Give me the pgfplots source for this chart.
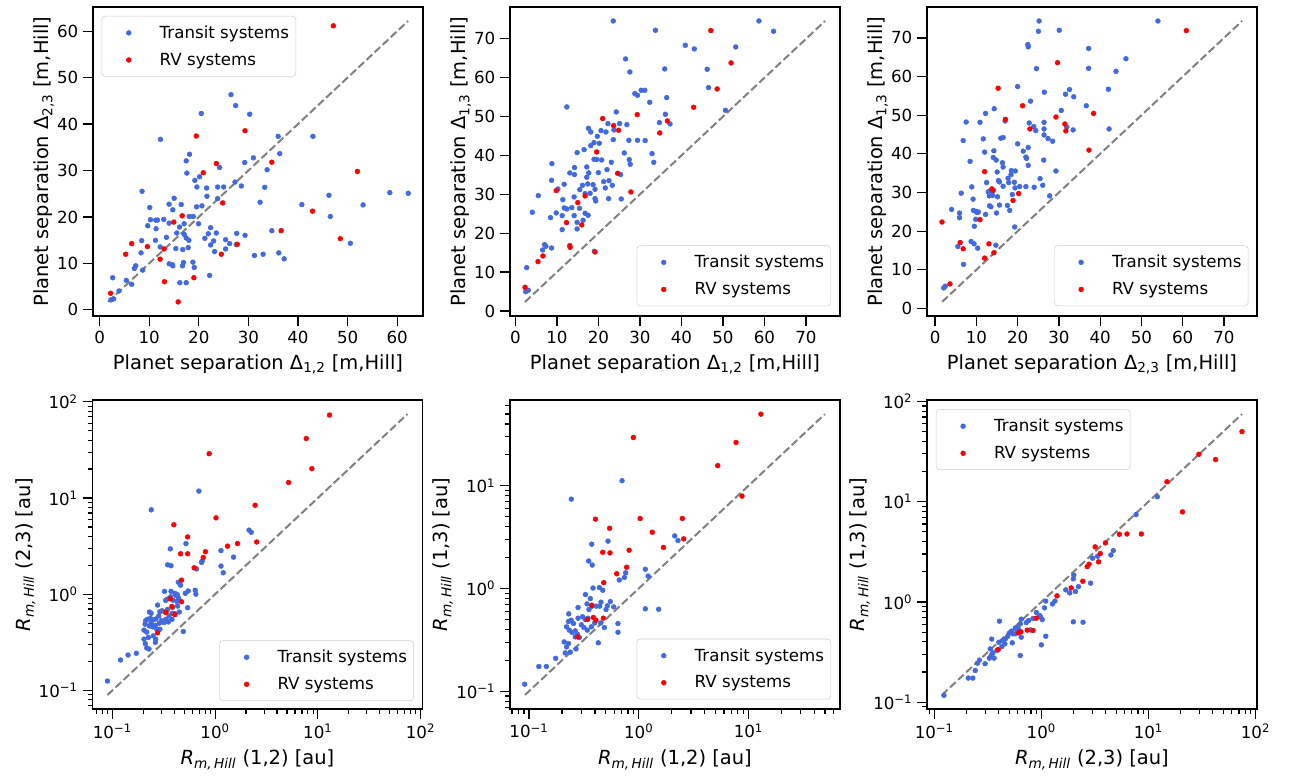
\documentclass[border=0pt]{standalone}
\usepackage{fontspec}
\setmainfont{DejaVu Sans}
\usepackage{pgfplots}
\pgfplotsset{compat=1.18}

\definecolor{tblue}{HTML}{4169E1}
\definecolor{tred}{HTML}{FF0000}

\newcommand{\Rm}{\textit{R}\textsubscript{\textit{m,\,Hill}}}
\newcommand{\tk}[1]{10\textsuperscript{#1}}

\pgfplotsset{
  panel/.style={
    scale only axis, anchor=north west, width=247.5pt, height=231.75pt,
    axis line style={black, line width=0.8pt},
    every tick/.style={black, line width=0.9pt},
    major tick length=7.5pt, minor tick length=3.75pt,
    tick align=outside, xtick pos=bottom, ytick pos=left,
    tick label style={font=\fontsize{12.5}{15}\selectfont},
    label style={font=\fontsize{14.6}{17}\selectfont},
    xlabel shift=1.5pt, ylabel shift=-4.5pt,
    /pgf/number format/assume math mode=true,
    legend cell align=left,
    legend style={font=\fontsize{12.5}{15}\selectfont, draw=black!20, rounded corners=2.5pt,
      fill=white, inner xsep=3pt, inner ysep=5pt, row sep=5.5pt},
  },
  dotleg/.style={legend image code/.code={\path (0pt,0pt) (38pt,0pt);
      \draw[mark repeat=2,mark phase=2,##1] plot coordinates {(0pt,0pt)(17pt,0pt)(38pt,0pt)};}},
  tr/.style={only marks, mark=*, mark size=1.8pt, color=tblue, dotleg},
  rv/.style={only marks, mark=*, mark size=1.8pt, color=tred, dotleg},
  diag/.style={color=gray, line width=1.5pt, dash pattern=on 5.8pt off 2.5pt, forget plot},
}

\begin{document}
\begin{tikzpicture}
\path[use as bounding box] (0,0) rectangle (966.75pt,-583.5pt);

% ---------- top left
\begin{axis}[panel, at={(69.75pt,-5.25pt)},
  xmin=-1.33, xmax=65.2, ymin=-1.33, ymax=65.2,
  xtick={0,10,...,60}, ytick={0,10,...,60},
  xlabel={Planet separation Δ\textsubscript{1,2} [m,Hill]},
  ylabel={Planet separation Δ\textsubscript{2,3} [m,Hill]},
  legend style={at={(0.026,0.971)}, anchor=north west}]
\addplot[tr] coordinates {(26.49,46.33)(27.43,43.98)(30.27,42.12)(20.49,42.27)(12.27,36.71)(18.13,33.50)(17.46,32.07)(17.59,29.44)(19.21,27.87)(20.16,28.65)(19.62,26.44)(21.57,26.23)(23.80,26.44)(25.01,26.44)(24.20,30.65)(29.26,31.72)(31.01,32.72)(33.77,30.15)(36.00,37.35)(36.33,33.64)(43.01,37.35)(33.30,26.37)(28.58,26.66)(27.30,27.51)(23.80,23.95)(21.64,24.45)(20.63,22.38)(19.55,22.17)(16.45,22.67)(15.03,24.02)(14.02,22.74)(14.76,21.53)(18.07,20.10)(18.87,20.10)(19.95,18.53)(17.05,18.53)(16.11,17.82)(14.02,18.67)(12.94,19.46)(11.32,19.32)(11.66,19.32)(10.25,19.39)(10.11,22.02)(8.56,25.52)(9.71,18.10)(11.39,17.46)(15.57,16.54)(17.05,16.25)(17.46,15.47)(18.00,14.97)(13.48,15.61)(11.26,14.97)(12.20,13.54)(8.49,14.90)(8.36,12.26)(15.37,13.19)(16.78,12.97)(17.86,13.40)(21.23,15.40)(21.91,16.39)(22.38,17.68)(23.53,16.54)(22.99,14.83)(22.38,13.97)(23.19,12.54)(25.41,15.11)(26.22,14.26)(25.41,13.11)(27.64,16.46)(27.57,14.04)(29.32,16.04)(34.72,17.04)(32.36,23.16)(40.78,22.67)(46.24,24.66)(46.51,20.10)(53.12,22.59)(58.51,25.23)(62.22,25.09)(31.21,11.69)(32.96,11.97)(36.13,12.26)(37.21,10.98)(50.56,14.33)(22.18,7.41)(14.02,9.91)(14.69,9.69)(14.76,9.48)(16.92,10.19)(16.72,9.48)(18.81,10.26)(19.08,9.12)(7.01,8.91)(7.28,9.48)(8.70,8.55)(5.39,6.34)(6.47,5.49)(2.63,6.91)(3.91,4.06)(2.29,2.14)(2.83,2.35)(17.46,5.84)(16.18,5.84)};
\addlegendentry{Transit systems}
\addplot[rv] coordinates {(47.12,61.15)(29.32,38.56)(19.48,37.42)(23.53,31.50)(20.90,29.51)(34.72,31.79)(24.81,23.02)(51.97,29.79)(42.94,21.24)(16.65,20.24)(14.96,18.89)(36.60,17.04)(6.47,14.26)(9.64,13.61)(13.01,13.11)(48.53,15.32)(27.77,14.11)(5.26,11.97)(12.20,10.91)(24.54,11.97)(19.01,6.91)(13.08,6.06)(15.84,1.71)(2.22,3.56)};
\addlegendentry{RV systems}
\addplot[diag] coordinates {(1.7,1.7)(62.2,62.2)};
\end{axis}

% ---------- top middle
\begin{axis}[panel, at={(382.5pt,-5.25pt)},
  xmin=-1.3, xmax=78.2, ymin=-1.3, ymax=78.2,
  xtick={0,10,...,70}, ytick={0,10,...,70},
  xlabel={Planet separation Δ\textsubscript{1,2} [m,Hill]},
  ylabel={Planet separation Δ\textsubscript{1,3} [m,Hill]},
  legend style={at={(0.973,0.032)}, anchor=south east}]
\addplot[tr] coordinates {(23.58,74.61)(33.73,72.21)(58.67,74.61)(62.19,71.96)(40.93,68.35)(43.09,67.41)(53.08,67.92)(26.54,64.84)(27.58,61.49)(35.97,62.26)(46.20,62.18)(46.52,57.46)(28.78,55.92)(29.42,55.49)(30.30,56.78)(31.18,56.78)(32.37,53.69)(36.45,54.89)(12.39,52.49)(24.30,51.20)(36.13,50.60)(50.60,51.63)(22.30,48.20)(25.10,48.20)(26.86,47.94)(34.69,48.46)(37.25,48.11)(17.59,47.00)(18.15,46.05)(20.62,46.40)(21.82,46.05)(23.74,46.57)(23.58,44.08)(27.34,43.91)(29.42,43.91)(31.26,43.83)(19.74,44.94)(20.22,43.14)(18.94,43.31)(18.15,42.54)(16.55,41.51)(14.87,40.74)(26.22,40.65)(32.93,40.48)(18.94,39.02)(19.58,39.02)(20.78,38.85)(23.10,38.25)(27.42,38.94)(27.66,37.74)(33.33,38.25)(8.79,37.91)(14.23,36.88)(17.19,37.05)(13.11,35.51)(14.23,35.08)(17.67,35.51)(17.19,34.39)(19.98,35.59)(22.06,36.36)(25.34,35.08)(8.71,33.62)(10.23,31.39)(11.75,32.59)(15.51,31.22)(16.15,32.33)(17.43,32.68)(18.71,32.50)(19.18,31.30)(21.26,33.28)(22.54,33.53)(21.66,31.65)(23.34,32.33)(5.52,29.67)(11.43,28.64)(14.15,29.33)(16.79,30.19)(17.99,30.27)(19.18,28.90)(19.34,28.30)(22.46,28.90)(25.50,28.82)(4.08,25.39)(8.47,24.01)(9.83,25.21)(11.27,24.53)(11.75,26.50)(12.39,26.24)(13.59,26.59)(15.43,26.42)(16.79,25.13)(17.51,24.61)(14.15,24.53)(14.87,22.81)(16.31,23.33)(11.27,20.93)(14.87,21.10)(7.03,17.07)(7.35,16.64)(6.55,15.69)(8.71,16.21)(19.02,15.35)(2.72,11.15)(2.48,4.97)(3.12,5.32)};
\addlegendentry{Transit systems}
\addplot[rv] coordinates {(47.08,72.13)(51.96,63.81)(48.60,57.12)(42.93,52.40)(29.34,50.51)(21.02,49.49)(23.66,47.68)(24.86,46.48)(36.61,48.89)(34.77,45.80)(19.58,40.91)(24.62,35.42)(9.83,30.96)(27.82,30.62)(16.79,29.59)(15.03,27.87)(12.31,22.73)(15.99,22.13)(13.11,16.81)(13.19,16.38)(19.18,15.18)(6.63,14.15)(5.44,12.69)(2.32,6.09)};
\addlegendentry{RV systems}
\addplot[diag] coordinates {(2.3,2.3)(74.6,74.6)};
\end{axis}

% ---------- top right
\begin{axis}[panel, at={(695.25pt,-5.25pt)},
  xmin=-1.96, xmax=78.0, ymin=-1.96, ymax=78.0,
  xtick={0,10,...,70}, ytick={0,10,...,70},
  xlabel={Planet separation Δ\textsubscript{2,3} [m,Hill]},
  ylabel={Planet separation Δ\textsubscript{1,3} [m,Hill]},
  legend style={at={(0.974,0.032)}, anchor=south east}]
\addplot[tr] coordinates {(25.2,74.38)(25.04,71.72)(30.08,71.98)(54.0,74.38)(22.48,68.29)(22.56,67.69)(37.2,67.27)(37.2,62.13)(24.56,62.04)(46.24,64.61)(43.84,61.35)(20.0,57.41)(42.0,56.73)(32.56,56.64)(31.6,55.44)(33.6,54.76)(26.48,55.96)(23.12,53.64)(36.64,52.44)(14.32,51.67)(12.24,50.47)(30.56,51.24)(7.52,48.24)(10.88,48.16)(16.96,48.50)(22.8,47.99)(26.4,48.16)(23.92,47.04)(24.4,46.02)(26.4,46.44)(31.92,46.87)(33.44,46.19)(42.16,46.44)(26.4,44.90)(27.36,43.96)(28.48,43.27)(6.8,43.44)(11.68,43.87)(15.92,44.04)(16.48,44.22)(20.0,42.59)(22.56,41.65)(12.0,40.45)(14.24,40.79)(21.36,40.70)(22.0,39.16)(22.16,38.82)(14.08,39.07)(14.8,38.39)(22.56,37.02)(26.32,38.39)(8.48,38.05)(16.32,37.70)(16.48,36.59)(15.04,35.30)(18.48,35.65)(18.4,34.62)(19.44,35.56)(29.28,35.56)(17.68,33.68)(15.36,33.08)(15.6,32.73)(17.84,32.56)(19.2,32.65)(16.48,31.62)(20.48,31.53)(22.0,31.53)(24.0,31.36)(25.44,33.59)(26.08,31.88)(8.88,31.45)(19.36,31.19)(12.48,32.56)(6.32,29.82)(12.88,30.16)(13.28,30.42)(13.92,30.33)(13.12,29.13)(13.92,29.22)(15.12,28.88)(18.72,29.48)(27.76,29.13)(9.2,28.28)(9.28,25.36)(9.92,25.11)(10.16,24.85)(10.48,24.94)(9.84,23.05)(9.52,21.25)(12.24,24.34)(13.2,26.56)(13.52,26.31)(15.6,26.74)(17.52,26.65)(18.08,25.36)(14.88,24.68)(4.0,25.62)(5.92,24.68)(5.92,23.48)(19.28,21.08)(8.72,17.31)(9.44,16.71)(5.52,16.02)(10.32,15.60)(14.72,16.37)(6.88,11.40)(2.08,5.31)(2.48,5.74)};
\addlegendentry{Transit systems}
\addplot[rv] coordinates {(60.88,71.89)(29.68,63.58)(15.28,56.98)(21.2,52.44)(38.4,50.47)(17.04,48.93)(29.28,49.53)(22.96,46.44)(31.44,47.73)(31.68,45.93)(37.28,40.96)(12.0,35.39)(13.76,30.93)(14.08,30.59)(20.24,29.73)(18.88,27.93)(10.88,22.96)(1.68,22.36)(6.08,17.05)(6.8,15.42)(13.04,16.71)(14.24,14.40)(12.0,13.02)(3.6,6.34)};
\addlegendentry{RV systems}
\addplot[diag] coordinates {(1.7,1.7)(74.4,74.4)};
\end{axis}

% ---------- bottom left
\begin{loglogaxis}[panel, at={(69.375pt,-300pt)},
  xmin=0.064, xmax=104.5, ymin=0.064, ymax=104.5,
  xtick={0.1,1,10,100}, xticklabels={\tk{−1},\tk{0},\tk{1},\tk{2}},
  ytick={0.1,1,10,100}, yticklabels={\tk{−1},\tk{0},\tk{1},\tk{2}},
  minor xtick={0.07,0.08,0.09,0.2,0.3,0.4,0.5,0.6,0.7,0.8,0.9,2,3,4,5,6,7,8,9,20,30,40,50,60,70,80,90},
  minor ytick={0.07,0.08,0.09,0.2,0.3,0.4,0.5,0.6,0.7,0.8,0.9,2,3,4,5,6,7,8,9,20,30,40,50,60,70,80,90},
  xlabel={\Rm\ (1,2) [au]}, ylabel={\Rm\ (2,3) [au]},
  legend style={at={(0.974,0.026)}, anchor=south east}]
\addplot[tr] coordinates {(0.695,11.8)(0.239,7.54)(0.520,3.36)(1.14,2.84)(0.366,2.96)(2.14,4.64)(2.25,4.40)(1.51,2.43)(0.345,2.02)(0.372,1.98)(0.659,1.83)(0.738,2.14)(0.748,2.21)(1.14,1.96)(1.20,1.67)(0.438,1.33)(0.461,1.24)(0.322,1.07)(0.372,1.07)(0.406,1.02)(0.415,0.97)(0.428,0.99)(0.512,1.02)(0.547,1.08)(0.640,1.10)(0.649,1.0)(0.330,0.861)(0.342,0.889)(0.369,0.939)(0.388,0.867)(0.425,0.841)(0.441,0.910)(0.275,0.771)(0.229,0.653)(0.238,0.633)(0.290,0.658)(0.304,0.673)(0.325,0.653)(0.345,0.695)(0.385,0.729)(0.431,0.753)(0.540,0.723)(0.211,0.531)(0.219,0.548)(0.208,0.488)(0.234,0.561)(0.247,0.540)(0.264,0.552)(0.282,0.594)(0.299,0.531)(0.332,0.548)(0.356,0.594)(0.383,0.633)(0.404,0.628)(0.448,0.653)(0.229,0.468)(0.247,0.457)(0.262,0.475)(0.286,0.499)(0.318,0.507)(0.350,0.515)(0.380,0.548)(0.203,0.423)(0.216,0.403)(0.203,0.341)(0.224,0.355)(0.250,0.369)(0.264,0.341)(0.262,0.316)(0.209,0.306)(0.216,0.276)(0.227,0.269)(0.171,0.243)(0.142,0.233)(0.120,0.207)(0.0895,0.125)(0.490,0.409)(0.270,0.432)(0.290,0.432)(0.238,0.499)};
\addlegendentry{Transit systems}
\addplot[rv] coordinates {(13.0,72.9)(7.71,41.6)(8.75,20.2)(0.875,28.9)(5.20,14.5)(2.45,8.41)(1.02,6.22)(0.397,5.27)(0.540,3.94)(1.32,3.16)(1.65,3.36)(2.54,3.49)(0.461,2.63)(0.540,2.63)(0.805,2.76)(0.766,2.41)(0.625,1.88)(0.471,1.40)(0.366,0.896)(0.380,0.746)(0.471,0.834)(0.332,0.647)(0.406,0.612)(0.275,0.396)};
\addlegendentry{RV systems}
\addplot[diag] coordinates {(0.0895,0.0895)(74.6,74.6)};
\end{loglogaxis}

% ---------- bottom middle
\begin{loglogaxis}[panel, at={(382.5pt,-300pt)},
  xmin=0.0671, xmax=68.4, ymin=0.0671, ymax=68.4,
  xtick={0.1,1,10}, xticklabels={\tk{−1},\tk{0},\tk{1}},
  ytick={0.1,1,10}, yticklabels={\tk{−1},\tk{0},\tk{1}},
  minor xtick={0.07,0.08,0.09,0.2,0.3,0.4,0.5,0.6,0.7,0.8,0.9,2,3,4,5,6,7,8,9,20,30,40,50,60},
  minor ytick={0.07,0.08,0.09,0.2,0.3,0.4,0.5,0.6,0.7,0.8,0.9,2,3,4,5,6,7,8,9,20,30,40,50,60},
  xlabel={\Rm\ (1,2) [au]}, ylabel={\Rm\ (1,3) [au]},
  legend style={at={(0.973,0.031)}, anchor=south east}]
\addplot[tr] coordinates {(0.705,11.2)(0.243,7.41)(0.373,2.70)(0.525,2.89)(0.350,1.85)(0.377,1.69)(2.13,3.25)(2.28,2.93)(1.15,1.54)(1.22,1.32)(0.760,1.42)(0.740,1.28)(0.665,1.21)(0.383,1.01)(0.438,1.02)(0.470,0.962)(0.327,0.873)(0.280,0.653)(0.362,0.798)(0.338,0.708)(0.352,0.624)(0.375,0.673)(0.411,0.673)(0.441,0.673)(0.453,0.736)(0.518,0.678)(0.551,0.746)(0.592,0.662)(0.504,0.624)(0.230,0.566)(0.242,0.491)(0.229,0.476)(0.220,0.423)(0.254,0.456)(0.280,0.514)(0.308,0.530)(0.327,0.499)(0.345,0.514)(0.300,0.443)(0.317,0.417)(0.340,0.393)(0.370,0.423)(0.397,0.462)(0.450,0.462)(0.486,0.417)(0.647,0.456)(0.647,0.375)(0.233,0.393)(0.247,0.373)(0.264,0.387)(0.276,0.359)(0.288,0.333)(0.209,0.302)(0.220,0.270)(0.229,0.291)(0.268,0.258)(0.238,0.240)(0.214,0.236)(0.428,0.296)(0.175,0.209)(0.123,0.174)(0.144,0.174)(0.0913,0.117)(1.15,0.634)(1.52,0.628)(0.264,0.338)};
\addlegendentry{Transit systems}
\addplot[rv] coordinates {(13.0,49.8)(0.893,29.5)(7.71,26.4)(5.25,15.7)(8.75,7.93)(0.403,4.73)(1.03,4.80)(2.50,4.80)(0.543,3.86)(1.33,3.53)(2.57,3.04)(0.470,2.25)(0.547,2.22)(0.817,2.36)(1.68,2.51)(0.777,1.61)(0.630,1.39)(0.480,1.14)(0.373,0.687)(0.340,0.499)(0.386,0.522)(0.408,0.491)(0.476,0.514)(0.278,0.338)};
\addlegendentry{RV systems}
\addplot[diag] coordinates {(0.092,0.092)(49.9,49.9)};
\end{loglogaxis}

% ---------- bottom right
\begin{loglogaxis}[panel, at={(695.25pt,-300pt)},
  xmin=0.0855, xmax=103.3, ymin=0.0855, ymax=103.3,
  xtick={0.1,1,10,100}, xticklabels={\tk{−1},\tk{0},\tk{1},\tk{2}},
  ytick={0.1,1,10,100}, yticklabels={\tk{−1},\tk{0},\tk{1},\tk{2}},
  minor xtick={0.09,0.2,0.3,0.4,0.5,0.6,0.7,0.8,0.9,2,3,4,5,6,7,8,9,20,30,40,50,60,70,80,90},
  minor ytick={0.09,0.2,0.3,0.4,0.5,0.6,0.7,0.8,0.9,2,3,4,5,6,7,8,9,20,30,40,50,60,70,80,90},
  xlabel={\Rm\ (2,3) [au]}, ylabel={\Rm\ (1,3) [au]},
  legend style={at={(0.027,0.970)}, anchor=north west}]
\addplot[tr] coordinates {(12.1,11.2)(7.66,7.43)(4.69,3.25)(4.46,2.94)(3.01,2.73)(3.35,2.86)(2.88,1.54)(2.22,1.42)(2.01,1.85)(1.99,1.70)(1.69,1.32)(1.84,1.23)(2.08,1.27)(1.34,1.02)(1.27,0.955)(1.10,1.02)(1.07,0.873)(0.898,0.784)(0.964,0.731)(1.02,0.667)(0.984,0.705)(0.836,0.683)(0.760,0.652)(0.723,0.622)(0.649,0.673)(0.635,0.604)(0.604,0.551)(0.570,0.547)(0.527,0.511)(0.486,0.455)(0.462,0.429)(0.437,0.412)(0.401,0.396)(0.406,0.643)(1.10,0.455)(1.0,0.373)(0.635,0.292)(0.794,0.526)(0.649,0.445)(0.542,0.481)(0.505,0.492)(0.617,0.519)(0.428,0.359)(0.384,0.328)(0.352,0.311)(0.333,0.340)(0.340,0.292)(0.362,0.275)(0.327,0.275)(0.298,0.242)(0.264,0.263)(0.253,0.245)(0.241,0.207)(0.208,0.174)(0.229,0.174)(0.123,0.117)(0.344,0.426)(1.99,0.633)(2.45,0.628)(0.535,0.391)(0.574,0.481)(0.456,0.382)};
\addlegendentry{Transit systems}
\addplot[rv] coordinates {(74.8,50.0)(29.6,29.7)(42.4,26.3)(14.9,15.8)(20.8,7.91)(5.35,4.73)(6.30,4.76)(8.59,4.76)(3.97,3.88)(3.18,3.54)(3.55,3.04)(3.42,2.51)(2.79,2.38)(2.68,2.25)(2.44,1.61)(1.90,1.38)(1.40,1.15)(0.898,0.689)(0.836,0.519)(0.738,0.523)(0.644,0.503)(0.612,0.492)(0.395,0.335)};
\addlegendentry{RV systems}
\addplot[diag] coordinates {(0.118,0.118)(74.8,74.8)};
\end{loglogaxis}
\end{tikzpicture}
\end{document}
